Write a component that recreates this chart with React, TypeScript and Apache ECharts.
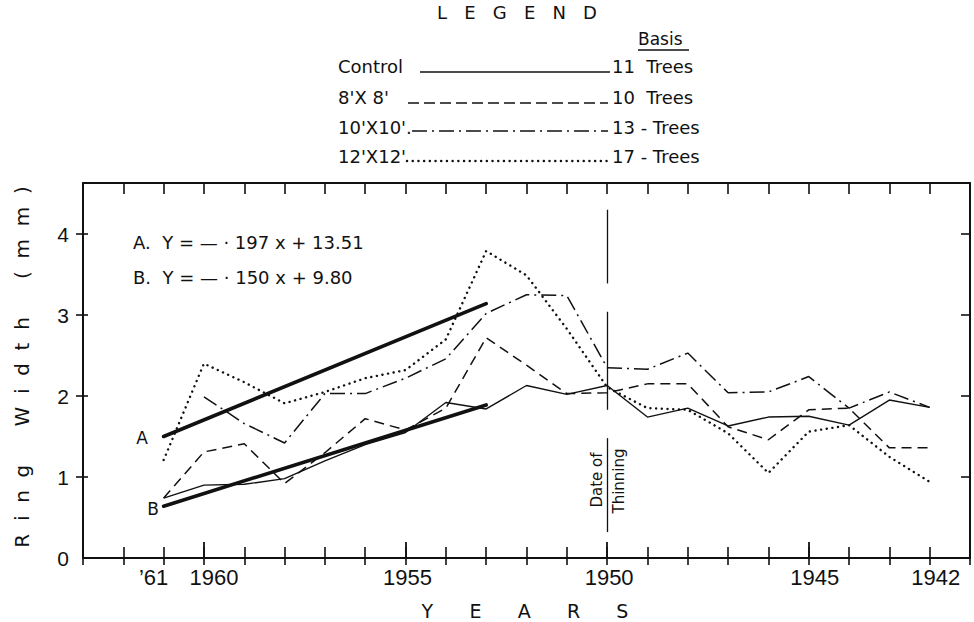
import { useEffect, useRef } from "react";
import * as echarts from "echarts";

// ---- Data (ring width, mm) ----
const YEARS = [1961, 1960, 1959, 1958, 1957, 1956, 1955, 1954, 1953, 1952, 1951, 1950, 1949, 1948, 1947, 1946, 1945, 1944, 1943, 1942];
const CONTROL = [0.74, 0.9, 0.91, 0.98, 1.2, 1.4, 1.55, 1.92, 1.84, 2.13, 2.02, 2.13, 1.74, 1.85, 1.63, 1.74, 1.75, 1.64, 1.95, 1.86];
const SPACING_8 = [0.74, 1.31, 1.41, 0.92, 1.3, 1.72, 1.58, 1.85, 2.72, 2.38, 2.03, 2.04, 2.15, 2.15, 1.62, 1.46, 1.83, 1.85, 1.36, 1.36];
const SPACING_10 = [null, 1.99, 1.66, 1.42, 2.03, 2.03, 2.22, 2.46, 3.02, 3.25, 3.24, 2.35, 2.33, 2.53, 2.04, 2.05, 2.24, 1.85, 2.05, 1.86];
const SPACING_12 = [1.21, 2.4, 2.17, 1.91, 2.05, 2.22, 2.32, 2.7, 3.79, 3.49, 2.83, 2.11, 1.85, 1.83, 1.54, 1.05, 1.56, 1.64, 1.25, 0.94];

const TREND_YEARS = [1961, 1953];
const TREND_A = [1.5, 3.14];
const TREND_B = [0.64, 1.89];

const X_LABEL_YEARS = [1961, 1960, 1955, 1950, 1945, 1942];
const X_MAJOR_TICKS = [1960, 1955, 1950, 1945];
const Y_LABELS = [0, 1, 2, 3, 4];
const Y_TICKS = [1, 2, 3, 4];

const THINNING_YEAR = 1950;
const THINNING_SEGMENTS = [
  [4.3, 3.39],
  [3.04, 1.83],
  [1.48, 0.32],
];

const EQUATION_A = "A.  Y = — · 197 x + 13.51";
const EQUATION_B = "B.  Y = — · 150 x + 9.80";

const LEGEND_LABELS = ["Control", "8'X 8'", "10'X10'.", "12'X12'"];
const LEGEND_BASIS = ["11  Trees", "10  Trees", "13 - Trees", "17 - Trees"];

const FONT = '"DejaVu Sans", "Liberation Sans", sans-serif';
const AXIS_FONT = '"Liberation Sans", Arial, sans-serif';
const INK = "#111";

const DASHED = [10, 6];
const DASH_DOT = [15, 5, 2, 5];
const DOTTED = [0.1, 5.6];

// label style keys for the x axis (nudges the hand-lettered labels as in the original)
const X_LABEL_STYLE: Record<number, string> = {
  1961: "l",
  1960: "r",
  1955: "n",
  1950: "n",
  1945: "s",
  1942: "s",
};

export default function App() {
  const ref = useRef<HTMLDivElement>(null);

  useEffect(() => {
    if (!ref.current) return;
    const chart = echarts.init(ref.current, undefined, { renderer: "svg" });

    const pairs = (vals: (number | null)[]) => YEARS.map((y, i) => [y, vals[i]]);
    const trend = (vals: number[]) => TREND_YEARS.map((y, i) => [y, vals[i]]);

    const xBase = {
      type: "value" as const,
      min: 1941,
      max: 1963,
      interval: 1,
      inverse: true,
      splitLine: { show: false },
    };
    const yBase = {
      type: "value" as const,
      min: 0,
      max: 4.63,
      interval: 1,
      splitLine: { show: false },
    };

    const lineSeries = (name: string, data: any[], style: any) => ({
      name,
      type: "line",
      data,
      showSymbol: false,
      symbol: "none",
      connectNulls: false,
      lineStyle: { color: INK, width: 1.4, ...style },
      z: 3,
    });

    const legendY = [66, 97, 127, 156];
    const legendLine = [
      { x1: 420, x2: 610, y: 72, style: { lineWidth: 1.5 } },
      { x1: 408, x2: 608, y: 103, style: { lineWidth: 1.5, lineDash: [11, 5] } },
      { x1: 412, x2: 608, y: 131, style: { lineWidth: 1.5, lineDash: DASH_DOT } },
      { x1: 407, x2: 608, y: 161, style: { lineWidth: 2.4, lineDash: DOTTED, lineCap: "round" } },
    ];

    const graphics: any[] = [
      {
        type: "text",
        x: 517,
        y: 12,
        style: { text: "L   E   G   E   N   D", font: `18px ${FONT}`, fill: INK, align: "center", verticalAlign: "middle" },
      },
      {
        type: "text",
        x: 638,
        y: 39,
        style: { text: "Basis", font: `17px ${FONT}`, fill: INK, align: "left", verticalAlign: "middle" },
      },
      { type: "line", shape: { x1: 638, y1: 50, x2: 689, y2: 50 }, style: { stroke: INK, lineWidth: 1.5 } },
      {
        type: "text",
        x: 133,
        y: 242,
        style: { text: EQUATION_A, font: `18px ${FONT}`, fill: INK, align: "left", verticalAlign: "middle" },
      },
      {
        type: "text",
        x: 133,
        y: 277,
        style: { text: EQUATION_B, font: `18px ${FONT}`, fill: INK, align: "left", verticalAlign: "middle" },
      },
      {
        type: "text",
        x: 142,
        y: 438,
        style: { text: "A", font: `17px ${FONT}`, fill: INK, align: "center", verticalAlign: "middle" },
      },
      {
        type: "text",
        x: 153,
        y: 509,
        style: { text: "B", font: `17px ${FONT}`, fill: INK, align: "center", verticalAlign: "middle" },
      },
      {
        type: "text",
        x: 597,
        y: 480,
        rotation: Math.PI / 2,
        style: { text: "Date of", font: `15px ${FONT}`, fill: INK, align: "center", verticalAlign: "middle" },
      },
      {
        type: "text",
        x: 619,
        y: 481,
        rotation: Math.PI / 2,
        style: { text: "Thinning", font: `15px ${FONT}`, fill: INK, align: "center", verticalAlign: "middle" },
      },
      {
        type: "text",
        x: 22,
        y: 367,
        rotation: Math.PI / 2,
        style: {
          text: "R  i  n  g      W  i  d  t  h      (  m  m  )",
          font: `20px ${FONT}`,
          fill: INK,
          align: "center",
          verticalAlign: "middle",
        },
      },
      {
        type: "text",
        x: 525,
        y: 611,
        style: {
          text: "Y      E      A      R      S",
          font: `19px ${FONT}`,
          fill: INK,
          align: "center",
          verticalAlign: "middle",
        },
      },
    ];

    LEGEND_LABELS.forEach((label, i) => {
      graphics.push({
        type: "text",
        x: 338,
        y: legendY[i],
        style: { text: label, font: `18px ${FONT}`, fill: INK, align: "left", verticalAlign: "middle" },
      });
      graphics.push({
        type: "line",
        shape: { x1: legendLine[i].x1, y1: legendLine[i].y, x2: legendLine[i].x2, y2: legendLine[i].y },
        style: { stroke: INK, ...legendLine[i].style },
      });
      graphics.push({
        type: "text",
        x: 612,
        y: legendY[i],
        style: { text: LEGEND_BASIS[i], font: `18px ${FONT}`, fill: INK, align: "left", verticalAlign: "middle" },
      });
    });

    const xRich = {
      fontFamily: AXIS_FONT,
      fontSize: 22,
      color: INK,
    };

    chart.setOption({
      animation: false,
      backgroundColor: "#fff",
      grid: { left: 83, right: 4, top: 183, bottom: 64, containLabel: false },
      xAxis: [
        {
          ...xBase,
          position: "bottom",
          axisLine: { show: true, lineStyle: { color: INK, width: 2 } },
          axisTick: { show: true, inside: true, length: 11, lineStyle: { color: INK, width: 1.6 } },
          axisLabel: {
            show: true,
            customValues: X_LABEL_YEARS,
            formatter: (v: number) => {
              const key = X_LABEL_STYLE[v] || "n";
              const txt = v === 1961 ? "’61" : String(v);
              return `{${key}|${txt}}`;
            },
            color: INK,
            fontFamily: AXIS_FONT,
            fontSize: 22,
            margin: 8,
            rich: {
              n: { ...xRich, padding: [0, 0, 0, 4] },
              s: { ...xRich, padding: [0, 0, 0, 12] },
              l: { ...xRich, padding: [0, 20, 0, 0] },
              r: { ...xRich, padding: [0, 0, 0, 20] },
            },
          },
        },
        {
          ...xBase,
          position: "bottom",
          axisLine: { show: false },
          axisTick: { show: true, inside: false, length: 7, lineStyle: { color: INK, width: 1.6 } },
          axisLabel: { show: false },
        },
        {
          ...xBase,
          position: "bottom",
          axisLine: { show: false },
          axisTick: { show: true, inside: true, length: 16, customValues: X_MAJOR_TICKS, lineStyle: { color: INK, width: 1.8 } },
          axisLabel: { show: false },
        },
        {
          ...xBase,
          position: "top",
          axisLine: { show: true, lineStyle: { color: INK, width: 2 } },
          axisTick: { show: true, inside: true, length: 11, lineStyle: { color: INK, width: 1.6 } },
          axisLabel: { show: false },
        },
      ],
      yAxis: [
        {
          ...yBase,
          position: "left",
          axisLine: { show: true, lineStyle: { color: INK, width: 2 } },
          axisTick: { show: true, inside: false, length: 7, customValues: Y_TICKS, lineStyle: { color: INK, width: 1.6 } },
          axisLabel: {
            show: true,
            customValues: Y_LABELS,
            color: INK,
            fontFamily: AXIS_FONT,
            fontSize: 21,
            margin: 14,
          },
        },
        {
          ...yBase,
          position: "left",
          axisLine: { show: false },
          axisTick: { show: true, inside: true, length: 5, customValues: Y_TICKS, lineStyle: { color: INK, width: 1.6 } },
          axisLabel: { show: false },
        },
        {
          ...yBase,
          position: "right",
          axisLine: { show: true, lineStyle: { color: INK, width: 2 } },
          axisTick: { show: true, inside: true, length: 9, customValues: Y_TICKS, lineStyle: { color: INK, width: 1.6 } },
          axisLabel: { show: false },
        },
      ],
      series: [
        {
          ...lineSeries("Control", pairs(CONTROL), { type: "solid" }),
          markLine: {
            silent: true,
            symbol: "none",
            label: { show: false },
            lineStyle: { color: INK, width: 1.3, type: "solid" },
            data: THINNING_SEGMENTS.map(([a, b]) => [
              { coord: [THINNING_YEAR, a] },
              { coord: [THINNING_YEAR, b] },
            ]),
          },
        },
        lineSeries("8'X 8'", pairs(SPACING_8), { type: DASHED, width: 1.5 }),
        lineSeries("10'X10'", pairs(SPACING_10), { type: DASH_DOT, width: 1.5 }),
        lineSeries("12'X12'", pairs(SPACING_12), { type: DOTTED, width: 2.4, cap: "round" }),
        lineSeries("A", trend(TREND_A), { type: "solid", width: 3.6, cap: "round" }),
        lineSeries("B", trend(TREND_B), { type: "solid", width: 3.6, cap: "round" }),
      ],
      graphic: graphics,
    });

    return () => chart.dispose();
  }, []);

  return (
    <div
      ref={ref}
      style={{ position: "fixed", left: 0, top: 0, width: 974, height: 622, background: "#fff" }}
    />
  );
}
